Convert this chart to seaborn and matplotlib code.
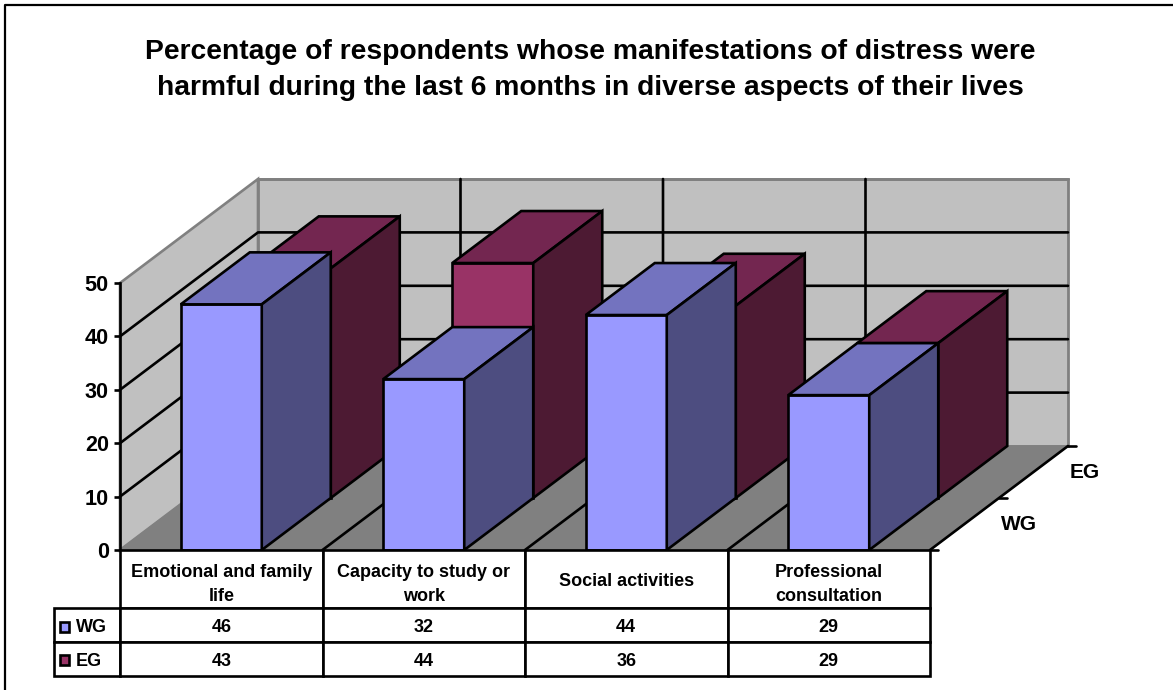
# %% imports

import matplotlib
matplotlib.use("Agg")
import matplotlib.pyplot as plt
from matplotlib.lines import Line2D
from matplotlib.patches import Polygon, Rectangle
import pandas as pd
import seaborn as sns

sns.set_style("white")
plt.rcParams['font.family'] = ['Liberation Sans', 'DejaVu Sans']
plt.rcParams['font.weight'] = 'bold'
plt.rcParams['text.color'] = 'black'
plt.rcParams['ytick.color'] = 'black'
plt.rcParams['ytick.labelcolor'] = 'black'

# %% data

title = ("Percentage of respondents whose manifestations of distress were\n"
         "harmful during the last 6 months in diverse aspects of their lives")
categories = ["Emotional and family\nlife", "Capacity to study or\nwork",
              "Social activities", "Professional\nconsultation"]
wg_values = [46, 32, 44, 29]
eg_values = [43, 44, 36, 29]
value_ticks = [0, 10, 20, 30, 40, 50]

WIDTH, HEIGHT = 1173, 690
LEFT, RIGHT, ZERO, TOP = 120, 930, 550, 283   # plot box, pixels
ROW_DX, ROW_DY = 69, 52                       # depth of one row, pixels

BLACK = "#000000"
WALL, FLOOR, WALL_EDGE = "#C0C0C0", "#808080", "#808080"
WG_COLORS = ("#9999FF", "#7373BF", "#4D4D80")
EG_COLORS = ("#993366", "#732650", "#4D1A33")
LW = 1.9


def box(x0, y0, x1, y1):
    """Rectangle of pixels (y from the top) to figure fractions"""
    return [x0 / WIDTH, 1 - y1 / HEIGHT, (x1 - x0) / WIDTH, (y1 - y0) / HEIGHT]


def fig_line(fig, xs, ys, color=BLACK, lw=LW):
    fig.add_artist(Line2D([x / WIDTH for x in xs], [1 - y / HEIGHT for y in ys],
                          color=color, lw=lw, solid_capstyle='projecting'))


def bar_axes(fig, shift, values, name, colors):
    """One row of bars, in its own axes shifted back by the depth"""
    bar_ax = fig.add_axes(box(LEFT + shift * ROW_DX, TOP - shift * ROW_DY,
                              RIGHT + shift * ROW_DX, ZERO - shift * ROW_DY))
    bar_ax.patch.set_visible(False)
    df = pd.DataFrame({"categoria": categories, name: values})
    sns.barplot(data=df, x="categoria", y=name, ax=bar_ax, width=0.4, color=colors[0],
                saturation=1, edgecolor=BLACK, linewidth=LW, zorder=3)
    bar_ax.set_xlim(-0.5, 3.5)
    bar_ax.set_ylim(0, 50)
    bar_ax.axis("off")

    # top and side faces come from the drawn bars
    for bar in list(bar_ax.patches):
        x0, x1, h = bar.get_x(), bar.get_x() + bar.get_width(), bar.get_height()
        top = [(x0, h), (x1, h), (x1 + dx, h + dy), (x0 + dx, h + dy)]
        side = [(x1, 0), (x1 + dx, dy), (x1 + dx, h + dy), (x1, h)]
        for pts, col in ((top, colors[1]), (side, colors[2])):
            bar_ax.add_patch(Polygon(pts, closed=True, facecolor=col, edgecolor=BLACK,
                                     linewidth=LW, clip_on=False, zorder=3,
                                     joinstyle='miter'))
        bar.set_clip_on(False)
    return bar_ax


# %% figure

fig = plt.figure(figsize=(WIDTH / 100, HEIGHT / 100), dpi=100, facecolor="white")

# only the top and left of the chart frame are inside the picture
fig_line(fig, [5, 5, WIDTH], [HEIGHT, 5, 5], lw=1.6)

fig.text(590 / WIDTH, 1 - 70 / HEIGHT, title, ha='center', va='center', fontsize=20.3,
         fontweight='bold', linespacing=1.5)

ax = fig.add_axes(box(LEFT, TOP, RIGHT, ZERO))
ax.set_xlim(-0.5, 3.5)
ax.set_ylim(0, 50)
dx = ROW_DX / ((RIGHT - LEFT) / len(categories))
dy = ROW_DY / ((ZERO - TOP) / value_ticks[-1])
ax.patch.set_visible(False)

x_lo, x_hi = -0.5, 3.5
y_hi = value_ticks[-1]

# walls and floor
ax.add_patch(Polygon([(x_lo, 0), (x_lo + 2 * dx, 2 * dy), (x_lo + 2 * dx, y_hi + 2 * dy), (x_lo, y_hi)],
                     facecolor=WALL, edgecolor=WALL_EDGE, lw=LW, clip_on=False, zorder=0))
ax.add_patch(Polygon([(x_lo + 2 * dx, 2 * dy), (x_hi + 2 * dx, 2 * dy), (x_hi + 2 * dx, y_hi + 2 * dy),
                      (x_lo + 2 * dx, y_hi + 2 * dy)],
                     facecolor=WALL, edgecolor=WALL_EDGE, lw=2, clip_on=False, zorder=0))
ax.add_patch(Polygon([(x_lo, 0), (x_hi, 0), (x_hi + 2 * dx, 2 * dy), (x_lo + 2 * dx, 2 * dy)],
                     facecolor=FLOOR, edgecolor=FLOOR, lw=1, clip_on=False, zorder=0))

# grid on the walls and the floor
for v in value_ticks[1:-1]:
    ax.plot([x_lo, x_lo + 2 * dx, x_hi + 2 * dx], [v, v + 2 * dy, v + 2 * dy],
            color=BLACK, lw=LW, clip_on=False, zorder=1)
ax.plot([x_lo + 2 * dx, x_hi + 2 * dx], [y_hi + 2 * dy] * 2, color=WALL_EDGE, lw=2, clip_on=False, zorder=1)
for i in range(1, len(categories)):
    x = x_lo + i
    ax.plot([x, x + 2 * dx, x + 2 * dx], [0, 2 * dy, y_hi + 2 * dy], color=BLACK, lw=LW,
            clip_on=False, zorder=1)

# depth axis with its two rows
ax.plot([x_hi, x_hi + 2 * dx], [0, 2 * dy], color=BLACK, lw=LW, clip_on=False, zorder=2)
tick_dx = 0.04
for row in range(3):
    ax.plot([x_hi + row * dx, x_hi + row * dx + tick_dx], [row * dy, row * dy], color=BLACK,
            lw=LW, clip_on=False, zorder=2)
for row, (label, off) in enumerate((("WG", 54), ("EG", 51))):
    ax.annotate(label, xy=(x_hi + (row + 0.5) * dx, (row + 0.5) * dy), xytext=(off * 0.72, 0),
                textcoords='offset points', ha='center', va='center', fontsize=15,
                fontweight='bold', annotation_clip=False)

# value axis
for side in ('top', 'right', 'bottom'):
    ax.spines[side].set_visible(False)
ax.spines['left'].set_linewidth(LW)
ax.spines['left'].set_color(BLACK)
ax.spines['left'].set_zorder(2)
ax.set_xticks([])
ax.set_yticks(value_ticks)
ax.tick_params(axis='y', left=True, length=4, width=LW, pad=4, labelsize=15.6, color=BLACK)
for lab in ax.get_yticklabels():
    lab.set_fontweight('bold')

# bars: back row first
ax_eg = bar_axes(fig, 1, eg_values, "EG", EG_COLORS)
ax_wg = bar_axes(fig, 0, wg_values, "WG", WG_COLORS)

# %% data table

table_ax = fig.add_axes(box(54, ZERO, RIGHT, 676))
table_ax.axis("off")
rows = [[""] + categories,
        ["WG"] + [str(v) for v in wg_values],
        ["EG"] + [str(v) for v in eg_values]]
row_heights = [58, 34, 34]
table = table_ax.table(cellText=rows, cellLoc='center', bbox=[0, 0, 1, 1],
                       colWidths=[66] + [(RIGHT - LEFT) / len(categories)] * len(categories))
table.auto_set_font_size(False)
for (r, c), cell in table.get_celld().items():
    cell.set_height(row_heights[r])
    cell.set_linewidth(LW)
    cell.set_edgecolor(BLACK)
    cell.get_text().set_fontsize(13)
    cell.get_text().set_fontweight('bold')
    cell.get_text().set_linespacing(1.55)
    cell.get_text().set_va('center_baseline')
    if r == 0 and c == 0:
        cell.visible_edges = ''
    if r > 0 and c == 0:
        cell.PAD = 0.33
        cell.get_text().set_ha('left')

# legend keys in the table
for y, col in ((627, WG_COLORS[0]), (660, EG_COLORS[0])):
    x0, y0, w, h = box(60, y - 5, 69, y + 5)
    fig.add_artist(Rectangle((x0, y0), w, h, transform=fig.transFigure, facecolor=col,
                             edgecolor=BLACK, lw=LW))

plt.savefig("out.png", dpi=100)
